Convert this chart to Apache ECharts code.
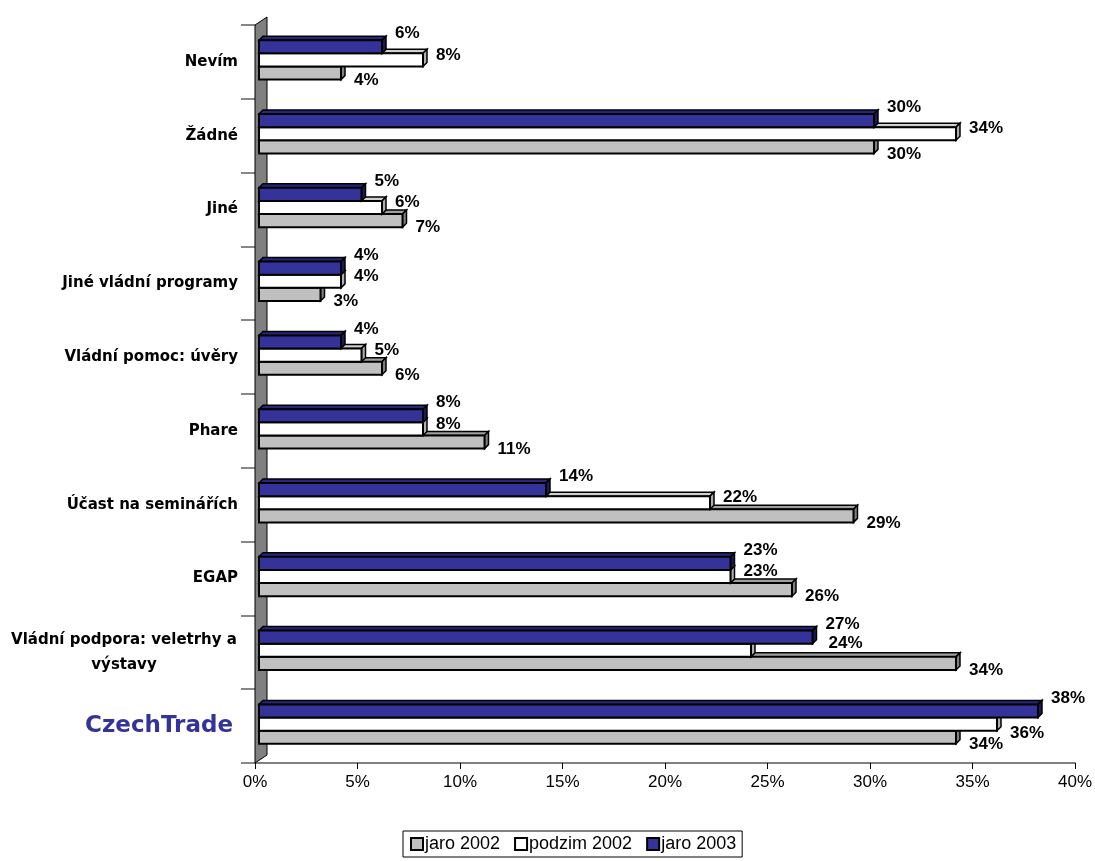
<!DOCTYPE html>
<html>
<head>
<meta charset="utf-8">
<script src="https://cdn.jsdelivr.net/npm/echarts@6/dist/echarts.min.js"></script>
<style>html,body{margin:0;padding:0;background:#fff}#c{width:1095px;height:861px}</style>
</head>
<body>
<div id="c"></div>
<script>
const categories = ['CzechTrade', 'Vládní podpora: veletrhy a výstavy', 'EGAP', 'Účast na seminářích', 'Phare', 'Vládní pomoc: úvěry', 'Jiné vládní programy', 'Jiné', 'Žádné', 'Nevím'];
const seriesNames = ['jaro 2002', 'podzim 2002', 'jaro 2003'];
const jaro2002 = [34, 34, 26, 29, 11, 6, 3, 7, 30, 4];
const podzim2002 = [36, 24, 23, 22, 8, 5, 4, 6, 34, 8];
const jaro2003 = [38, 27, 23, 14, 8, 4, 4, 5, 30, 6];
const xTicks = { min: 0, max: 40, interval: 5 };

const styles = [
  { color: '#C0C0C0', side: '#808080', top: '#A0A0A0', dy: 7 },
  { color: '#FFFFFF', side: '#B0B0B0', top: '#D0D0D0', dy: -5 },
  { color: '#333399', side: '#1A1A5C', top: '#26267A', dy: -13 }
];
const valueSets = [jaro2002, podzim2002, jaro2003];

function makeRender(k) {
  const st = styles[k];
  return function (params, api) {
    const v = api.value(0), ci = api.value(1);
    const p0 = api.coord([0, ci]);
    const p1 = api.coord([v, ci]);
    const band = api.size([0, 1])[1];
    const h = band * 0.178;
    const D = 4;
    const setTop = p0[1] - 1.5 * h - 2;
    const y = setTop + (2 - k) * h;
    const x0 = p0[0] + 4, x1 = p1[0] + 4;
    let lx = x1 + D + 9, dy = st.dy;
    if (k === 1) {
      const blue = jaro2003[ci], gray = jaro2002[ci];
      if (blue > v) {
        if (gray <= v) { dy = 9; }
        else { lx = api.coord([blue, ci])[0] + 4 + D + 12; dy = -7; }
      }
    }
    return {
      type: 'group',
      children: [
        { type: 'polygon', shape: { points: [[x0, y], [x0 + D, y - D], [x1 + D, y - D], [x1, y]] },
          style: { fill: st.top, stroke: '#000', lineWidth: 1.5 } },
        { type: 'polygon', shape: { points: [[x1, y], [x1 + D, y - D], [x1 + D, y + h - D], [x1, y + h]] },
          style: { fill: st.side, stroke: '#000', lineWidth: 1.5 } },
        { type: 'rect', shape: { x: x0, y: y, width: x1 - x0, height: h },
          style: { fill: st.color, stroke: '#000', lineWidth: 2 } },
        { type: 'text', z2: 10,
          style: { text: v + '%', x: lx, y: y + h / 2 + dy, fill: '#000',
            font: 'bold 17px "Liberation Sans", Arial', align: 'left', verticalAlign: 'middle' } }
      ]
    };
  };
}

const chart = echarts.init(document.getElementById('c'), null, { renderer: 'canvas' });
const option = {
  backgroundColor: '#fff',
  animation: false,
  grid: { left: 255, right: 18, top: 25, bottom: 98 },
  legend: {
    data: seriesNames,
    bottom: 4, left: 403,
    icon: 'rect', itemWidth: 12, itemHeight: 12, itemGap: 14,
    borderColor: '#000', borderWidth: 1, padding: [4, 6, 4, 7],
    itemStyle: { borderColor: '#000', borderWidth: 2 },
    textStyle: { fontFamily: '"Liberation Sans", Arial', fontSize: 18, color: '#000', padding: [0, 0, 0, -3] }
  },
  xAxis: {
    type: 'value', min: xTicks.min, max: xTicks.max, interval: xTicks.interval,
    splitLine: { show: false },
    axisLine: { show: true, lineStyle: { color: '#808080', width: 2 } },
    axisTick: { show: true, length: 6, lineStyle: { color: '#000', width: 1 } },
    axisLabel: { formatter: '{value}%', fontFamily: '"Liberation Sans", Arial', fontSize: 17, color: '#000', margin: 11 }
  },
  yAxis: {
    type: 'category', data: categories,
    axisLine: { show: false },
    axisTick: { show: true, length: 14, lineStyle: { color: '#606060', width: 1.5 } },
    axisLabel: {
      margin: 17, color: '#000', fontFamily: '"DejaVu Sans", Verdana', fontSize: 15, fontWeight: 'bold',
      formatter: function (val) {
        if (val === 'CzechTrade') return '{ct|CzechTrade}';
        if (val === 'Vládní podpora: veletrhy a výstavy') return '{w|Vládní podpora: veletrhy a}\n{w|výstavy}';
        return val;
      },
      rich: {
        ct: { color: '#333399', fontFamily: '"DejaVu Sans", Verdana', fontSize: 23, fontWeight: 'bold', padding: [0, 5, 0, 0] },
        w: { color: '#000', fontFamily: '"DejaVu Sans", Verdana', fontSize: 15, fontWeight: 'bold', width: 228, align: 'center', lineHeight: 25 }
      }
    }
  },
  series: valueSets.map((vals, k) => ({
    name: seriesNames[k],
    type: 'custom',
    z: 3,
    itemStyle: { color: styles[k].color, borderColor: '#000', borderWidth: 2 },
    encode: { x: 0, y: 1 },
    data: vals.map((v, i) => [v, i]),
    renderItem: makeRender(k)
  }))
};
chart.setOption(option);

const px0 = chart.convertToPixel({ xAxisIndex: 0 }, 0);
const yA = chart.convertToPixel({ yAxisIndex: 0 }, 0);
const yB = chart.convertToPixel({ yAxisIndex: 0 }, categories.length - 1);
const step = (yA - yB) / (categories.length - 1);
const bottomY = yA + step / 2, topY = yB - step / 2;
chart.setOption({
  graphic: [{
    type: 'polygon', z: 1,
    shape: { points: [[px0, topY], [px0 + 12, topY - 8], [px0 + 12, bottomY - 8], [px0, bottomY]] },
    style: { fill: '#808080', stroke: '#000', lineWidth: 1 }
  }]
});
</script>
</body>
</html>
